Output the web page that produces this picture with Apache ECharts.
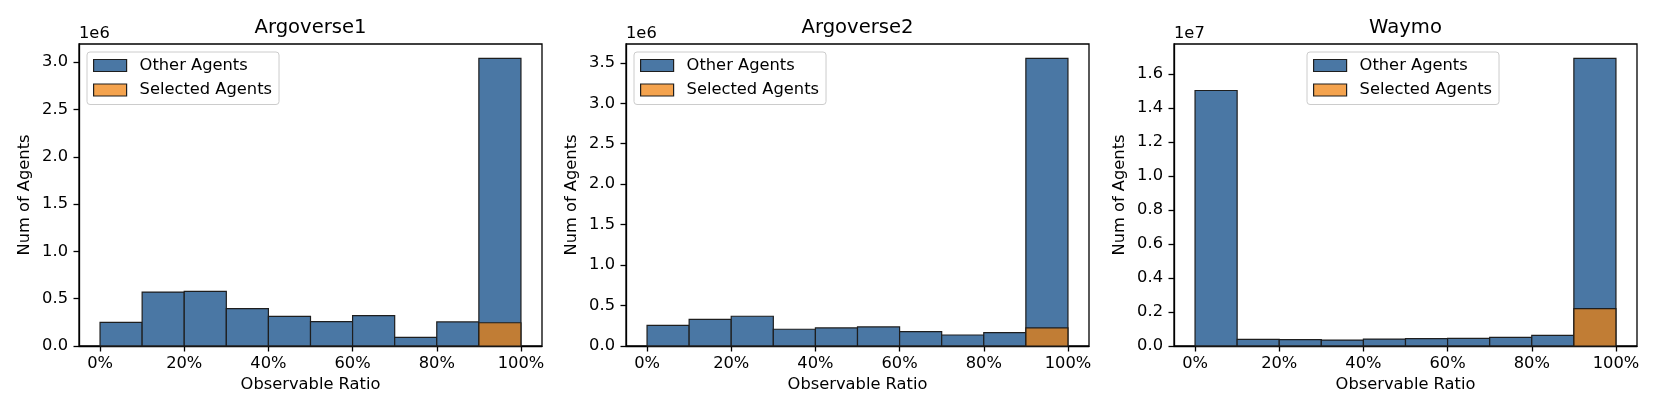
<!DOCTYPE html>
<html>
<head>
<meta charset="utf-8">
<script src="https://cdn.jsdelivr.net/npm/echarts@6/dist/echarts.min.js"></script>
<style>
html,body{margin:0;padding:0;background:#fff;}
#chart{width:1661px;height:415px;}
</style>
</head>
<body>
<div id="chart"></div>
<script>
// ---- data ----
const binEdges = [0, 0.1, 0.2, 0.3, 0.4, 0.5, 0.6, 0.7, 0.8, 0.9, 1.0];
const xTicks = [0, 0.2, 0.4, 0.6, 0.8, 1.0];

const titles = ['Argoverse1', 'Argoverse2', 'Waymo'];
const seriesNames = ['Other Agents', 'Selected Agents'];

const argo1Other = [250000, 570000, 577000, 394000, 313000, 257000, 320000, 92000, 254000, 3040000];
const argo1Selected = [0, 0, 0, 0, 0, 0, 0, 0, 0, 246000];
const argo1YTicks = [0, 500000, 1000000, 1500000, 2000000, 2500000, 3000000];

const argo2Other = [256000, 330000, 368000, 207000, 223000, 236000, 178000, 136000, 165000, 3555000];
const argo2Selected = [0, 0, 0, 0, 0, 0, 0, 0, 0, 223000];
const argo2YTicks = [0, 500000, 1000000, 1500000, 2000000, 2500000, 3000000, 3500000];

const waymoOther = [15040000, 390000, 370000, 350000, 410000, 430000, 450000, 510000, 630000, 16930000];
const waymoSelected = [0, 0, 0, 0, 0, 0, 0, 0, 0, 2200000];
const waymoYTicks = [0, 2000000, 4000000, 6000000, 8000000, 10000000, 12000000, 14000000, 16000000];

const offsetTexts = ['1e6', '1e6', '1e7'];
const scales = [1e6, 1e6, 1e7];

// ---- styling ----
const FONT = 'DejaVu Sans';
const FS = 16.3;
const BLUE = '#4a77a4';
const ORANGE = 'rgba(240,127,10,0.72)';
const EDGE = '#1e1e1e';

const panels = [
  {other: argo1Other, sel: argo1Selected, yTicks: argo1YTicks},
  {other: argo2Other, sel: argo2Selected, yTicks: argo2YTicks},
  {other: waymoOther, sel: waymoSelected, yTicks: waymoYTicks}
];
const gridLefts = [79, 626, 1174];
const gridWidth = 463, gridTop = 44, gridHeight = 302;
const legendWidth = 197;
const legendLefts = [87, 634, 1174 + gridWidth / 2 - legendWidth / 2];

function toBins(vals) {
  return vals.map((v, i) => [binEdges[i], binEdges[i + 1], v]);
}

function makeRender(fill) {
  return function (params, api) {
    const x0 = api.value(0), x1 = api.value(1), v = api.value(2);
    const p0 = api.coord([x0, v]);
    const p1 = api.coord([x1, 0]);
    return {
      type: 'rect',
      shape: {x: p0[0], y: p0[1], width: p1[0] - p0[0], height: p1[1] - p0[1]},
      style: {fill: fill, stroke: EDGE, lineWidth: 1.2}
    };
  };
}

const grid = [], xAxis = [], yAxis = [], series = [], legend = [], title = [];

panels.forEach((p, k) => {
  grid.push({left: gridLefts[k], top: gridTop, width: gridWidth, height: gridHeight,
    show: true, borderColor: '#000', borderWidth: 1.3, backgroundColor: 'transparent'});
  xAxis.push({
    type: 'value', gridIndex: k, min: -0.05, max: 1.05,
    name: 'Observable Ratio', nameLocation: 'middle', nameGap: 31,
    nameTextStyle: {fontFamily: FONT, fontSize: FS, color: '#000'},
    axisLine: {show: true, onZero: false, lineStyle: {color: '#000', width: 1.3}},
    axisTick: {show: true, length: 5.5, customValues: xTicks, lineStyle: {color: '#000', width: 1.3}},
    axisLabel: {show: true, customValues: xTicks, margin: 10, fontFamily: FONT, fontSize: FS, color: '#000',
      formatter: v => Math.round(v * 100) + '%'},
    splitLine: {show: false}
  });
  const ymax = Math.max.apply(null, p.other) * 1.05;
  yAxis.push({
    type: 'value', gridIndex: k, min: 0, max: ymax,
    name: 'Num of Agents', nameLocation: 'middle', nameGap: 46,
    nameTextStyle: {fontFamily: FONT, fontSize: FS, color: '#000'},
    axisLine: {show: true, onZero: false, lineStyle: {color: '#000', width: 1.3}},
    axisTick: {show: true, length: 5.5, customValues: p.yTicks, lineStyle: {color: '#000', width: 1.3}},
    axisLabel: {show: true, customValues: p.yTicks, margin: 11, fontFamily: FONT, fontSize: FS, color: '#000',
      formatter: v => (v / scales[k]).toFixed(1)},
    splitLine: {show: false}
  });
  series.push({
    type: 'custom', name: seriesNames[0], xAxisIndex: k, yAxisIndex: k,
    renderItem: makeRender(BLUE), data: toBins(p.other),
    itemStyle: {color: BLUE}, encode: {x: [0, 1], y: 2}, silent: true, z: 2
  });
  series.push({
    type: 'custom', name: seriesNames[1], xAxisIndex: k, yAxisIndex: k,
    renderItem: makeRender(ORANGE), data: toBins(p.sel),
    itemStyle: {color: ORANGE}, encode: {x: [0, 1], y: 2}, silent: true, z: 3
  });
  legend.push({
    orient: 'vertical', left: legendLefts[k], top: 52,
    padding: [5, 7, 6, 6], itemGap: 7.5, itemWidth: 33, itemHeight: 12,
    borderColor: '#cccccc', borderWidth: 1, borderRadius: 3,
    backgroundColor: 'rgba(255,255,255,0.8)',
    selectedMode: false,
    textStyle: {fontFamily: FONT, fontSize: FS, color: '#000', lineHeight: 17, padding: [0, 0, 0, 8]},
    data: [
      {name: seriesNames[0], icon: 'rect', itemStyle: {color: BLUE, borderColor: EDGE, borderWidth: 1.2}},
      {name: seriesNames[1], icon: 'rect', itemStyle: {color: ORANGE, borderColor: EDGE, borderWidth: 1.2}}
    ]
  });
  title.push({
    text: titles[k], left: gridLefts[k] + gridWidth / 2, top: 18, textAlign: 'center', padding: 0,
    textStyle: {fontFamily: FONT, fontSize: 19.6, fontWeight: 'normal', color: '#000'}
  });
  title.push({
    text: offsetTexts[k], left: gridLefts[k], top: 26, padding: 0,
    textStyle: {fontFamily: FONT, fontSize: FS, fontWeight: 'normal', color: '#000'}
  });
});

const chart = echarts.init(document.getElementById('chart'), null, {renderer: 'canvas'});
chart.setOption({
  animation: false,
  backgroundColor: '#fff',
  title: title,
  grid: grid,
  xAxis: xAxis,
  yAxis: yAxis,
  legend: legend,
  series: series
});
</script>
</body>
</html>
